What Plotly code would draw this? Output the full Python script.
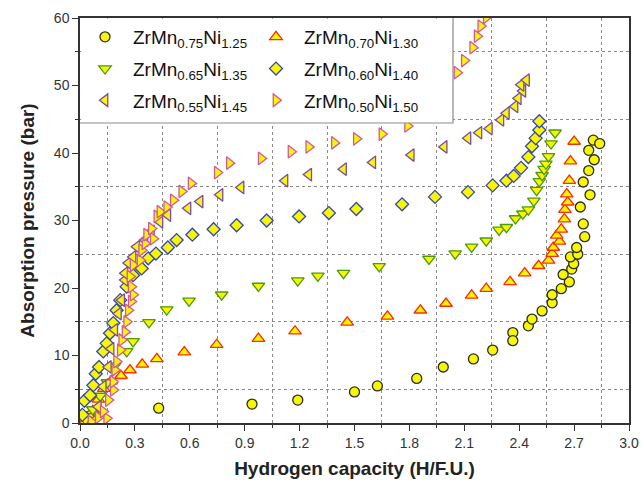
import plotly.graph_objects as go

# ---------------- data ----------------
labels = ["ZrMn<sub>0.75</sub>Ni<sub>1.25</sub>", "ZrMn<sub>0.70</sub>Ni<sub>1.30</sub>",
          "ZrMn<sub>0.65</sub>Ni<sub>1.35</sub>", "ZrMn<sub>0.60</sub>Ni<sub>1.40</sub>",
          "ZrMn<sub>0.55</sub>Ni<sub>1.45</sub>", "ZrMn<sub>0.50</sub>Ni<sub>1.50</sub>"]

x075 = [0.01, 0.05, 0.43, 0.94, 1.19, 1.50, 1.625, 1.84, 1.985, 2.15, 2.255, 2.365, 2.365, 2.45, 2.47,
        2.525, 2.58, 2.58, 2.63, 2.674, 2.64, 2.687, 2.698, 2.68, 2.72, 2.714, 2.758, 2.75, 2.734, 2.787,
        2.75, 2.78, 2.81, 2.78, 2.805, 2.84]
y075 = [0.3, 1.0, 2.2, 2.8, 3.4, 4.6, 5.5, 6.6, 8.3, 9.5, 10.8, 13.4, 12.2, 14.4, 15.4,
        16.6, 17.8, 19.0, 19.9, 20.9, 22.0, 22.8, 23.6, 24.6, 25.0, 26.0, 27.6, 29.5, 32.0, 33.8,
        35.7, 37.4, 39.0, 40.4, 41.9, 41.4]

x070 = [0.03, 0.07, 0.10, 0.13, 0.17, 0.224, 0.273, 0.34, 0.42, 0.57, 0.747, 0.975, 1.175, 1.46, 1.68,
        1.86, 2.0, 2.14, 2.22, 2.35, 2.43, 2.506, 2.56, 2.58, 2.586, 2.62, 2.605, 2.63, 2.647, 2.65,
        2.665, 2.66, 2.674, 2.68, 2.70]
y070 = [0.3, 1.8, 3.5, 5.1, 6.2, 7.0, 7.85, 8.7, 9.5, 10.5, 11.6, 12.5, 13.6, 14.9, 15.8,
        16.7, 17.7, 18.9, 19.9, 20.9, 22.2, 23.3, 24.1, 25.1, 26.0, 26.9, 27.8, 28.7, 30.2, 31.6,
        32.7, 33.9, 35.9, 38.8, 41.7]

x065 = [0.03, 0.07, 0.11, 0.15, 0.19, 0.255, 0.29, 0.377, 0.474, 0.596, 0.774, 0.975, 1.19, 1.30, 1.44,
        1.635, 1.907, 2.05, 2.14, 2.22, 2.29, 2.33, 2.38, 2.42, 2.45, 2.48, 2.495, 2.51, 2.525, 2.536,
        2.546, 2.56, 2.574, 2.596]
y065 = [0.5, 2.0, 4.0, 6.0, 8.5, 10.6, 12.1, 14.9, 16.8, 18.1, 19.0, 20.3, 21.1, 21.8, 22.2,
        23.2, 24.3, 25.1, 26.1, 27.0, 28.6, 29.0, 30.3, 31.0, 31.6, 32.9, 34.5, 35.8, 36.7, 37.6,
        38.4, 39.5, 41.4, 43.0]

x060 = [0.013, 0.024, 0.055, 0.073, 0.086, 0.104, 0.127, 0.146, 0.164, 0.182, 0.2, 0.22, 0.255, 0.29,
        0.337, 0.373, 0.415, 0.48, 0.528, 0.614, 0.73, 0.856, 1.02, 1.197, 1.36, 1.51, 1.76, 1.94, 2.12,
        2.255, 2.33, 2.37, 2.41, 2.45, 2.47, 2.49, 2.51, 2.51]
y060 = [1.2, 3.3, 4.1, 5.6, 7.3, 8.3, 10.6, 11.8, 13.3, 14.8, 16.7, 18.2, 20.2, 21.9,
        22.9, 24.4, 25.1, 26.0, 27.1, 27.9, 28.7, 29.3, 30.0, 30.6, 31.1, 31.7, 32.4, 33.5, 34.2,
        35.2, 35.9, 36.6, 37.8, 39.4, 41.0, 42.2, 43.4, 44.7]

x055 = [0.08, 0.10, 0.127, 0.155, 0.17, 0.19, 0.21, 0.228, 0.246, 0.246, 0.264, 0.29, 0.31, 0.355,
        0.39, 0.437, 0.48, 0.59, 0.656, 0.765, 0.88, 1.12, 1.25, 1.44, 1.60, 1.81, 1.99, 2.12, 2.18,
        2.237, 2.30, 2.33, 2.377, 2.395, 2.42, 2.41, 2.44]
y055 = [0.4, 2.4, 5.4, 8.3, 11.0, 13.8, 16.2, 18.2, 21.2, 22.2, 23.7, 24.6, 26.1, 27.1,
        28.4, 29.8, 30.8, 31.8, 32.8, 33.8, 34.9, 35.9, 36.8, 37.6, 38.6, 39.7, 40.9, 42.2, 43.0,
        43.6, 44.9, 45.9, 46.9, 48.1, 49.2, 50.1, 50.8]

x050 = [0.06, 0.10, 0.146, 0.127, 0.155, 0.182, 0.18, 0.19, 0.2, 0.22, 0.228, 0.246, 0.255, 0.264,
        0.28, 0.29, 0.28, 0.273, 0.29, 0.328, 0.337, 0.355, 0.364, 0.40, 0.39, 0.42, 0.437, 0.474,
        0.51, 0.556, 0.607, 0.75, 0.816, 0.99, 1.153, 1.25, 1.39, 1.51, 1.65, 1.79, 1.86, 1.93, 1.99,
        2.06, 2.10, 2.146, 2.17, 2.19, 2.22]
y050 = [0.2, 0.8, 0.7, 1.7, 3.4, 4.9, 6.1, 7.85, 9.1, 10.8, 12.3, 13.5, 15.0, 16.7,
        18.0, 19.0, 20.2, 21.7, 23.4, 24.1, 25.6, 26.6, 27.9, 27.3, 28.8, 30.6, 31.3, 32.0,
        33.0, 34.3, 35.5, 37.1, 38.5, 39.2, 40.2, 40.9, 41.5, 42.1, 42.8, 44.0, 45.8, 48.0, 50.0,
        51.9, 53.7, 55.6, 57.3, 58.8, 60.1]

xs = [x075, x070, x065, x060, x055, x050]
ys = [y075, y070, y065, y060, y055, y050]
symbols = ["circle", "triangle-up", "triangle-down", "diamond", "triangle-left", "triangle-right"]
edge_colors = ["#2b2b2b", "#ff2a00", "#4f9a0a", "#3346b0", "#7a4aa8", "#d2589e"]
sizes = [10, 11, 11, 10, 11, 11]
legend_ids = ["legend", "legend2", "legend", "legend2", "legend", "legend2"]
FILL = "#f7f700"

# ---------------- figure ----------------
fig = go.Figure()
for i, (lab, x, y, sym, ec, sz, lg) in enumerate(zip(labels, xs, ys, symbols, edge_colors, sizes, legend_ids)):
    fig.add_trace(go.Scatter(
        x=x, y=y, mode="markers", name=lab, legend=lg, legendgroup=f"g{i}",
        marker=dict(symbol=sym, size=sz, color=FILL, line=dict(color=ec, width=1.3)),
        cliponaxis=True,
    ))

FONT = "Arial, Liberation Sans, sans-serif"
grid = dict(showgrid=True, gridcolor="#8a8a8a", griddash="dot", gridwidth=1.2,
            ticks="outside", ticklen=3, tickcolor="#333")

W, H = 644, 491
ML, MR, MT, MB = 80, 15, 18, 68
pw, ph = W - ML - MR, H - MT - MB


def px_to_paper_x(p):
    return (p - ML) / pw


def px_to_paper_y(p):
    return (H - MB - p) / ph


leg_common = dict(
    orientation="v", xanchor="left", yanchor="top",
    bgcolor="rgba(0,0,0,0)", borderwidth=0,
    font=dict(family=FONT, size=19, color="#111"),
    itemwidth=46, tracegroupgap=4,
)

box_r = px_to_paper_x(453)
box_b = px_to_paper_y(123)

fig.update_layout(
    width=W, height=H,
    margin=dict(l=ML, r=MR, t=MT, b=MB, autoexpand=False),
    paper_bgcolor="white", plot_bgcolor="white",
    font=dict(family=FONT, color="#222"),
    showlegend=True,
    legend=dict(x=px_to_paper_x(77), y=1.0, **leg_common),
    legend2=dict(x=px_to_paper_x(248), y=1.0, **leg_common),
    shapes=[
        dict(type="rect", xref="paper", yref="paper", x0=0.002, x1=box_r, y0=box_b, y1=0.998,
             fillcolor="white", line=dict(width=0), layer="above"),
        dict(type="path", xref="paper", yref="paper",
             path=f"M {0.0} {box_b} L {box_r} {box_b} L {box_r} 1",
             line=dict(color="#8c8c8c", width=1.2), layer="above"),
    ],
    xaxis=dict(
        range=[0, 3.0], tickmode="linear", tick0=0, dtick=0.3, tickformat=".1f",
        showgrid=False, zeroline=False, automargin=False,
        showline=True, linecolor="#333", linewidth=1.5, mirror=True,
        ticks="outside", ticklen=6, tickwidth=1.2, tickcolor="#333",
        tickfont=dict(family=FONT, size=14, color="#333"),
        title=dict(text="<b>Hydrogen capacity (H/F.U.)</b>", font=dict(family=FONT, size=19, color="#222"),
                   standoff=12),
        minor=dict(tick0=0.15, dtick=0.3, **grid),
    ),
    yaxis=dict(
        range=[0, 60], tickmode="linear", tick0=0, dtick=10,
        showgrid=False, zeroline=False, automargin=False,
        showline=True, linecolor="#333", linewidth=1.5, mirror=True,
        ticks="outside", ticklen=6, tickwidth=1.2, tickcolor="#333",
        tickfont=dict(family=FONT, size=14, color="#333"),
        title=dict(text="<b>Absorption pressure (bar)</b>", font=dict(family=FONT, size=19, color="#222"),
                   standoff=14),
        minor=dict(tick0=5, dtick=10, **grid),
    ),
)

fig.write_html("out.html")
